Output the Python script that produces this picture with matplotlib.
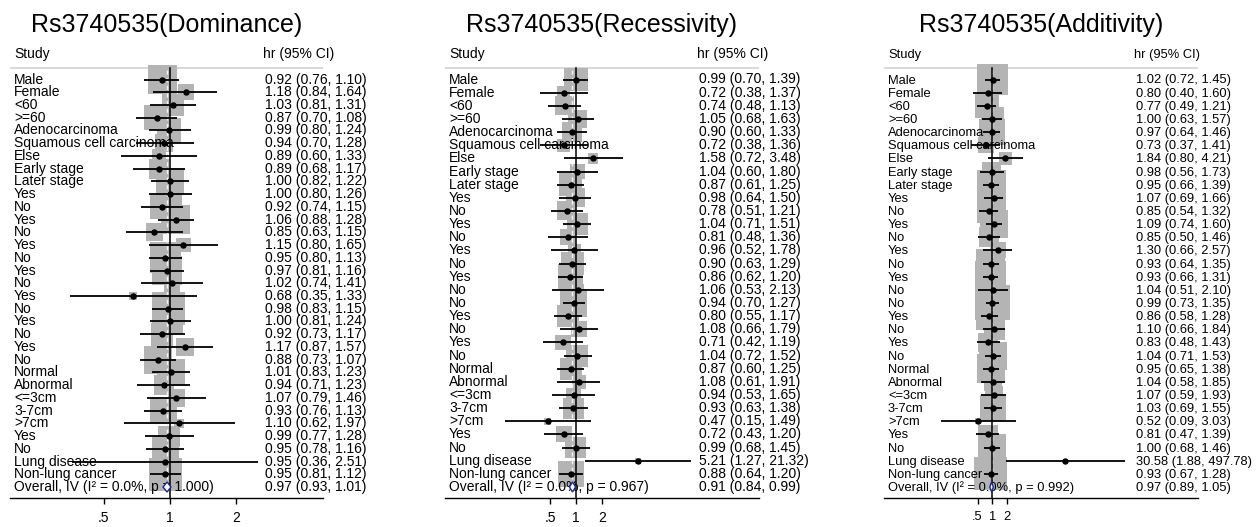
import numpy as np
import matplotlib
matplotlib.use("Agg")
import matplotlib.pyplot as plt
import matplotlib.transforms as mtransforms
from matplotlib.patches import Polygon
from matplotlib.ticker import NullLocator

plt.rcParams["font.family"] = ["Liberation Sans", "DejaVu Sans"]

W, H = 1258, 527

# ---- data ----
dom_labels = ["Male", "Female", "<60", ">=60", "Adenocarcinoma", "Squamous cell carcinoma",
              "Else", "Early stage", "Later stage", "Yes", "No", "Yes", "No", "Yes", "No",
              "Yes", "No", "Yes", "No", "Yes", "No", "Yes", "No", "Normal", "Abnormal",
              "<=3cm", "3-7cm", ">7cm", "Yes", "No", "Lung disease", "Non-lung cancer"]
dom_hr = [0.92, 1.18, 1.03, 0.87, 0.99, 0.94, 0.89, 0.89, 1.00, 1.00, 0.92, 1.06, 0.85, 1.15,
          0.95, 0.97, 1.02, 0.68, 0.98, 1.00, 0.92, 1.17, 0.88, 1.01, 0.94, 1.07, 0.93, 1.10,
          0.99, 0.95, 0.95, 0.95]
dom_lo = [0.76, 0.84, 0.81, 0.70, 0.80, 0.70, 0.60, 0.68, 0.82, 0.80, 0.74, 0.88, 0.63, 0.80,
          0.80, 0.81, 0.74, 0.35, 0.83, 0.81, 0.73, 0.87, 0.73, 0.83, 0.71, 0.79, 0.76, 0.62,
          0.77, 0.78, 0.36, 0.81]
dom_hi = [1.10, 1.64, 1.31, 1.08, 1.24, 1.28, 1.33, 1.17, 1.22, 1.26, 1.15, 1.28, 1.15, 1.65,
          1.13, 1.16, 1.41, 1.33, 1.15, 1.24, 1.17, 1.57, 1.07, 1.23, 1.23, 1.46, 1.13, 1.97,
          1.28, 1.16, 2.51, 1.12]
dom_overall = [0.97, 0.93, 1.01]
dom_i2, dom_p = "0.0%", "1.000"

rec_labels = ["Male", "Female", "<60", ">=60", "Adenocarcinoma", "Squamous cell carcinoma",
              "Else", "Early stage", "Later stage", "Yes", "No", "Yes", "No", "Yes", "No",
              "Yes", "No", "No", "Yes", "No", "Yes", "No", "Normal", "Abnormal",
              "<=3cm", "3-7cm", ">7cm", "Yes", "No", "Lung disease", "Non-lung cancer"]
rec_hr = [0.99, 0.72, 0.74, 1.05, 0.90, 0.72, 1.58, 1.04, 0.87, 0.98, 0.78, 1.04, 0.81, 0.96,
          0.90, 0.86, 1.06, 0.94, 0.80, 1.08, 0.71, 1.04, 0.87, 1.08, 0.94, 0.93, 0.47, 0.72,
          0.99, 5.21, 0.88]
rec_lo = [0.70, 0.38, 0.48, 0.68, 0.60, 0.38, 0.72, 0.60, 0.61, 0.64, 0.51, 0.71, 0.48, 0.52,
          0.63, 0.62, 0.53, 0.70, 0.55, 0.66, 0.42, 0.72, 0.60, 0.61, 0.53, 0.63, 0.15, 0.43,
          0.68, 1.27, 0.64]
rec_hi = [1.39, 1.37, 1.13, 1.63, 1.33, 1.36, 3.48, 1.80, 1.25, 1.50, 1.21, 1.51, 1.36, 1.78,
          1.29, 1.20, 2.13, 1.27, 1.17, 1.79, 1.19, 1.52, 1.25, 1.91, 1.65, 1.38, 1.49, 1.20,
          1.45, 21.32, 1.20]
rec_overall = [0.91, 0.84, 0.99]
rec_i2, rec_p = "0.0%", "0.967"

add_labels = rec_labels
add_hr = [1.02, 0.80, 0.77, 1.00, 0.97, 0.73, 1.84, 0.98, 0.95, 1.07, 0.85, 1.09, 0.85, 1.30,
          0.93, 0.93, 1.04, 0.99, 0.86, 1.10, 0.83, 1.04, 0.95, 1.04, 1.07, 1.03, 0.52, 0.81,
          1.00, 30.58, 0.93]
add_lo = [0.72, 0.40, 0.49, 0.63, 0.64, 0.37, 0.80, 0.56, 0.66, 0.69, 0.54, 0.74, 0.50, 0.66,
          0.64, 0.66, 0.51, 0.73, 0.58, 0.66, 0.48, 0.71, 0.65, 0.58, 0.59, 0.69, 0.09, 0.47,
          0.68, 1.88, 0.67]
add_hi = [1.45, 1.60, 1.21, 1.57, 1.46, 1.41, 4.21, 1.73, 1.39, 1.66, 1.32, 1.60, 1.46, 2.57,
          1.35, 1.31, 2.10, 1.35, 1.28, 1.84, 1.43, 1.53, 1.38, 1.85, 1.93, 1.55, 3.03, 1.39,
          1.46, 497.78, 1.28]
add_overall = [0.97, 0.89, 1.05]
add_i2, add_p = "0.0%", "0.992"

panels = [
    ("Rs3740535(Dominance)", dom_labels, dom_hr, dom_lo, dom_hi, dom_overall, dom_i2, dom_p),
    ("Rs3740535(Recessivity)", rec_labels, rec_hr, rec_lo, rec_hi, rec_overall, rec_i2, rec_p),
    ("Rs3740535(Additivity)", add_labels, add_hr, add_lo, add_hi, add_overall, add_i2, add_p),
]

# pixel layout of each panel (axis extent, position of 1, px per doubling, text column)
layouts = [
    dict(x0=10, x1=323, one=170, per2=66.3, col=265, box_k=13, fs=10.0),
    dict(x0=445, x1=759, one=576, per2=26.0, col=699, box_k=10, fs=10.0),
    dict(x0=884, x1=1198, one=992.3, per2=14.8, col=1136, box_k=13, fs=9.3),
]

TOP, BOT = 40, 498          # axes top / axis line (px from top)
ROW0, ROWN = 79.5, 487      # first study row / overall row
HDR_LINE = 68
BOX_GREY = "#b4b4b4"


def draw_panel(fig, panel, lay):
    title, labels, hr, lo, hi, overall, i2, pval = panel
    n = len(labels)
    step = (ROWN - ROW0) / n

    def row(px):
        return (px - ROW0) / step

    ax = fig.add_axes([lay["x0"] / W, 1 - BOT / H, (lay["x1"] - lay["x0"]) / W, (BOT - TOP) / H])
    ax.set_xscale("log")
    ax.set_xlim(2 ** ((lay["x0"] - lay["one"]) / lay["per2"]),
                2 ** ((lay["x1"] - lay["one"]) / lay["per2"]))
    ax.set_ylim(row(BOT), row(TOP))

    hr = np.array(hr)
    lo = np.array(lo)
    hi = np.array(hi)
    rows = np.arange(n)

    # box area proportional to inverse-variance weight (% of total)
    se = (np.log(hi) - np.log(lo)) / (2 * 1.96)
    se_ov = (np.log(overall[2]) - np.log(overall[1])) / (2 * 1.96)
    pct = 100 * (1 / se ** 2) / (1 / se_ov ** 2)
    side_px = lay["box_k"] * np.sqrt(pct)
    ax.scatter(hr, rows, marker="s", s=(side_px * 0.72) ** 2, color=BOX_GREY,
               linewidths=0, zorder=1)

    # header rule, null line, overall dashed line
    ax.axhline(row(HDR_LINE), color="#d6d6d6", lw=1.3, zorder=0)
    ax.plot([1, 1], [row(HDR_LINE), row(BOT)], color="black", lw=1.1, zorder=3)
    ax.plot([overall[0], overall[0]], [row(HDR_LINE + 2), n], color="#f4f4f4", lw=1.0,
            ls=(0, (3, 2.5)), zorder=2)

    ax.hlines(rows, lo, hi, color="black", lw=1.3, zorder=4)
    ax.plot(hr, rows, "o", color="black", ms=3.6, zorder=5)

    dh = 5 / step
    diamond = Polygon([(overall[1], n), (overall[0], n - dh), (overall[2], n), (overall[0], n + dh)],
                      closed=True, facecolor="white", edgecolor="#1c2a8c", lw=1.0, zorder=6)
    ax.add_patch(diamond)

    # axis
    for s in ["top", "left", "right"]:
        ax.spines[s].set_visible(False)
    ax.spines["bottom"].set_linewidth(1.0)
    ax.set_xticks([0.5, 1, 2])
    ax.set_xticklabels([".5", "1", "2"])
    ax.xaxis.set_minor_locator(NullLocator())
    ax.tick_params(axis="x", length=4, width=1, labelsize=lay["fs"], pad=5)
    ax.set_yticks([])

    # text columns
    shift = mtransforms.ScaledTranslation(0, -0.04, fig.dpi_scale_trans)
    tr = mtransforms.blended_transform_factory(fig.transFigure, ax.transData) + shift
    lx = (lay["x0"] + 4) / W
    vx = lay["col"] / W
    for i, lab in enumerate(labels):
        ax.text(lx, i, lab, transform=tr, ha="left", va="baseline", fontsize=lay["fs"], zorder=3)
        ax.text(vx, i, f"{hr[i]:.2f} ({lo[i]:.2f}, {hi[i]:.2f})", transform=tr,
                ha="left", va="baseline", fontsize=lay["fs"])
    ax.text(lx, n, f"Overall, IV (I\u00b2 = {i2}, p = {pval})", transform=tr,
            ha="left", va="baseline", fontsize=lay["fs"], zorder=3)
    ax.text(vx, n, f"{overall[0]:.2f} ({overall[1]:.2f}, {overall[2]:.2f})", transform=tr,
            ha="left", va="baseline", fontsize=lay["fs"])

    fig.text(lx, 1 - 58 / H, "Study", ha="left", va="baseline", fontsize=lay["fs"])
    fig.text((lay["col"] - 2) / W, 1 - 58 / H, "hr (95% CI)", ha="left", va="baseline",
             fontsize=lay["fs"])
    fig.text((lay["x0"] + lay["x1"]) / 2 / W, 1 - 32 / H, title, ha="center", va="baseline",
             fontsize=18)


fig = plt.figure(figsize=(W / 100, H / 100), dpi=100)
for panel, lay in zip(panels, layouts):
    draw_panel(fig, panel, lay)

fig.savefig("out.png", dpi=100, facecolor="white")
